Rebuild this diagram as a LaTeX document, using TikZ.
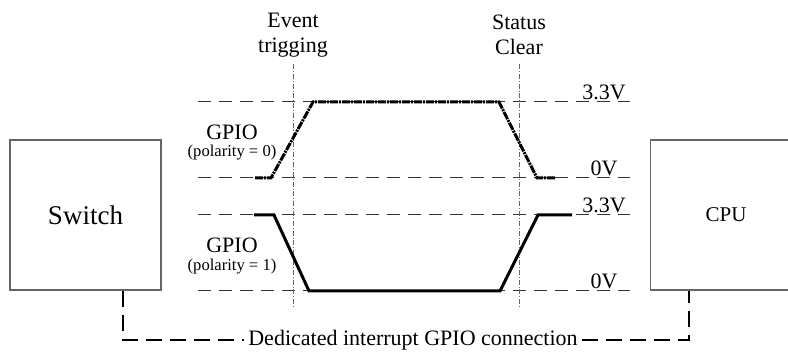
\documentclass[tikz,border=0pt]{standalone}
\usepackage{fontspec}
\setmainfont{Liberation Serif}
\usetikzlibrary{calc}
\begin{document}
\begin{tikzpicture}[x=0.5pt,y=-0.5pt,
  box/.style={draw=black!60,line width=0.75pt,minimum width=75.5pt,minimum height=75pt,inner sep=0pt},
  level/.style={draw=black!80,line width=0.5pt,dash pattern=on 6.5pt off 4pt},
  marker/.style={draw=black!60,line width=0.4pt,dash pattern=on 2.5pt off 1pt on 0.4pt off 1pt},
  wave/.style={line width=1.5pt,line join=miter},
  wavedot/.style={wave,dash pattern=on 4pt off 0.5pt on 1pt off 0.5pt},
  link/.style={line width=1pt,dash pattern=on 8pt off 4pt},
  lbl/.style={font=\fontsize{11}{12.5}\selectfont,inner sep=1pt},
  small/.style={font=\fontsize{8.3}{9}\selectfont,inner sep=1pt}]
\useasboundingbox (0,0) rectangle (788,356);
% boxes
\node[box,font=\fontsize{13.5}{15}\selectfont] (sw) at (85.5,215) {Switch};
\node[box,font=\fontsize{10.5}{12}\selectfont] (cpu) at (726,215) {CPU};
% level lines
\draw[level] (198,102) -- (630,102);
\draw[level] (198,178) -- (630,178);
\draw[level] (198,215) -- (630,215);
\draw[level] (198,291) -- (630,291);
% marker lines
\draw[marker] (293,64) -- (293,308);
\draw[marker] (519,64) -- (519,308);
% top labels
\node[lbl,align=center] (ev) at (293,35) {Event\\trigging};
\node[lbl,align=center] (st) at (519,35) {Status\\Clear};
% voltage labels
\node[lbl] (v1) at (604,92) {3.3V};
\node[lbl] (v2) at (604,168) {0V};
\node[lbl] (v3) at (604,205) {3.3V};
\node[lbl] (v4) at (604,281) {0V};
% gpio labels
\node[lbl] (g0) at (232,132) {GPIO};
\node[small] (p0) at (232,153) {(polarity = 0)};
\node[lbl] (g1) at (232,245) {GPIO};
\node[small] (p1) at (232,267) {(polarity = 1)};
% waveforms
\draw[wavedot] (255,178) -- (271,178) -- (313,102) -- (499,102) -- (537,178) -- (555,178);
\draw[wave] (254,215) -- (274,215) -- (309,291) -- (500,291) -- (538,215) -- (572,215);
% connection
\node[lbl,inner sep=2pt] (conn) at (413,340) {Dedicated interrupt GPIO connection};
\coordinate (swp) at ($(sw.south)+(37.5,0)$);
\coordinate (cpup) at ($(cpu.south)+(-37,0)$);
\draw[link] (swp) |- (conn.west);
\draw[link] (conn.east) -| (cpup);
\end{tikzpicture}
\end{document}
